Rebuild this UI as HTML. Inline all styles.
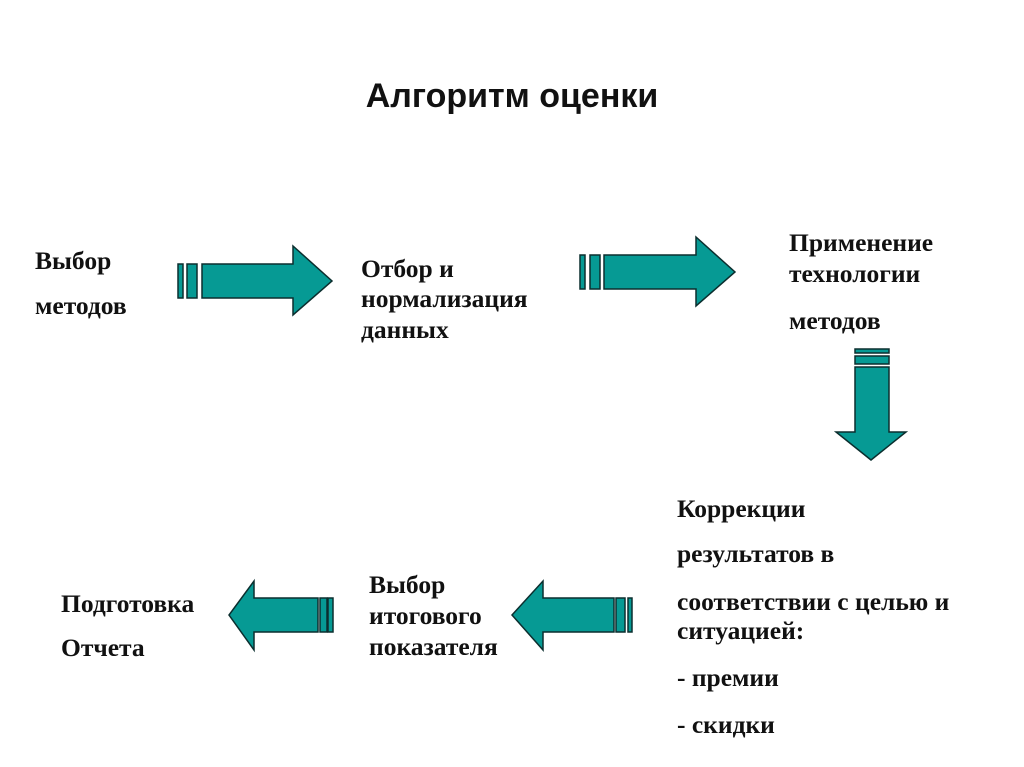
<!DOCTYPE html>
<html><head><meta charset="utf-8"><style>
html,body{margin:0;padding:0;background:#fff;}
#c{position:relative;width:1024px;height:767px;overflow:hidden;}
.t{position:absolute;font-family:"Liberation Serif","Noto Serif CJK SC",serif;font-weight:bold;font-size:25.5px;line-height:26px;color:#111;white-space:nowrap;}
.h{position:absolute;left:0;width:1024px;top:77px;text-align:center;font-family:"Liberation Sans",sans-serif;font-weight:bold;font-size:34px;line-height:38px;color:#111;}
svg{position:absolute;left:0;top:0;}
</style></head><body><div id="c">
<svg width="1024" height="767">
<g fill="#069a94" stroke="#0b2e2e" stroke-width="1.5">
<rect x="178" y="264" width="5" height="34"/><rect x="187" y="264" width="10" height="34"/>
<polygon points="202,264 293,264 293,246 332,281 293,315 293,298 202,298"/>
<rect x="580" y="255" width="5" height="34"/><rect x="590" y="255" width="10" height="34"/>
<polygon points="604,255 696,255 696,237 735,272 696,306 696,289 604,289"/>
<rect x="855" y="349" width="34" height="4"/><rect x="855" y="356" width="34" height="8"/>
<polygon points="855,367 889,367 889,432 906,432 871,460 836,432 855,432"/>
<rect x="328" y="598" width="5" height="34"/><rect x="320" y="598" width="7" height="34"/>
<polygon points="318,598 254,598 254,581 229,615 254,650 254,632 318,632"/>
<rect x="628" y="598" width="4" height="34"/><rect x="616" y="598" width="9" height="34"/>
<polygon points="614,598 543,598 543,581 512,615 543,650 543,632 614,632"/>
</g></svg>
<div class="h">Алгоритм оценки</div>
<div class="t" style="left:35px;top:248px">Выбор</div>
<div class="t" style="left:35px;top:293px">методов</div>
<div class="t" style="left:361px;top:256px">Отбор и</div>
<div class="t" style="left:361px;top:286px">нормализация</div>
<div class="t" style="left:361px;top:317px">данных</div>
<div class="t" style="left:789px;top:230px">Применение</div>
<div class="t" style="left:789px;top:261px">технологии</div>
<div class="t" style="left:789px;top:308px">методов</div>
<div class="t" style="left:677px;top:496px">Коррекции</div>
<div class="t" style="left:677px;top:541px">результатов в</div>
<div class="t" style="left:677px;top:589px">соответствии с целью и</div>
<div class="t" style="left:677px;top:618px">ситуацией:</div>
<div class="t" style="left:677px;top:665px">- премии</div>
<div class="t" style="left:677px;top:712px">- скидки</div>
<div class="t" style="left:369px;top:572px">Выбор</div>
<div class="t" style="left:369px;top:603px">итогового</div>
<div class="t" style="left:369px;top:634px">показателя</div>
<div class="t" style="left:61px;top:591px">Подготовка</div>
<div class="t" style="left:61px;top:635px">Отчета</div>
</div></body></html>
